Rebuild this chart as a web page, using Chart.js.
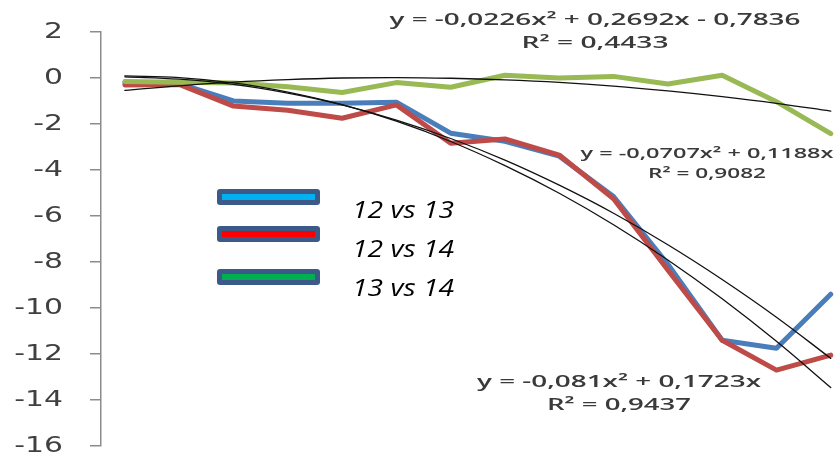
<!DOCTYPE html>
<html>
<head>
<meta charset="utf-8">
<script src="https://cdn.jsdelivr.net/npm/chart.js@4.4.0/dist/chart.umd.min.js"></script>
<style>
  html, body { margin: 0; padding: 0; background: #fff; }
  #wrap { width: 834px; height: 457px; position: relative; }
</style>
</head>
<body>
<div id="wrap"><canvas id="myChart"></canvas></div>
<script>
// x positions (1..14) and the values
const xValues = [1, 2, 3, 4, 5, 6, 7, 8, 9, 10, 11, 12, 13, 14];
const vs1213 = [-0.2, -0.25, -1.0, -1.1, -1.1, -1.05, -2.4, -2.75, -3.4, -5.15, -8.1, -11.4, -11.75, -9.4];
const vs1214 = [-0.3, -0.28, -1.22, -1.4, -1.75, -1.17, -2.84, -2.65, -3.35, -5.25, -8.35, -11.4, -12.7, -12.05];
const vs1314 = [-0.15, -0.18, -0.22, -0.38, -0.63, -0.2, -0.4, 0.12, 0.0, 0.07, -0.26, 0.12, -1.03, -2.42];
// trend lines as read (they agree with the printed equations)
const trend1213 = [0.05, -0.05, -0.28, -0.66, -1.17, -1.83, -2.63, -3.57, -4.66, -5.88, -7.25, -8.76, -10.4, -12.19];
const trend1214 = [0.09, 0.02, -0.21, -0.61, -1.16, -1.88, -2.76, -3.81, -5.01, -6.38, -7.91, -9.6, -11.45, -13.46];
const trend1314 = [-0.54, -0.34, -0.18, -0.07, 0.0, 0.02, -0.01, -0.08, -0.19, -0.35, -0.56, -0.81, -1.1, -1.44];
const yTicks = [2, 0, -2, -4, -6, -8, -10, -12, -14, -16];
const seriesNames = ["12 vs 13", "12 vs 14", "13 vs 14"];
const keyColors = ["#00B0F0", "#FF0000", "#00B050"];
const equations = [
  ["y = -0,0226x² + 0,2692x - 0,7836", "R² = 0,4433"],
  ["y = -0,0707x² + 0,1188x", "R² = 0,9082"],
  ["y = -0,081x² + 0,1723x", "R² = 0,9437"]
];

function points(arr) {
  return xValues.map((x, i) => ({ x: x, y: arr[i] }));
}

// draws text stretched to a given width
function wideText(ctx, text, x, y, width, align) {
  const w = ctx.measureText(text).width;
  ctx.save();
  ctx.translate(x, y);
  ctx.scale(width / w, 1);
  ctx.textAlign = align;
  ctx.fillText(text, 0, 0);
  ctx.restore();
}

const extras = {
  id: "extras",
  afterDraw(chart) {
    const ctx = chart.ctx;
    const yScale = chart.scales.y;
    ctx.save();
    ctx.textBaseline = "middle";
    ctx.fillStyle = "#404040";
    ctx.font = "21px 'DejaVu Sans'";
    yScale.ticks.forEach((t) => {
      const label = String(t.value);
      const w = ctx.measureText(label).width * 1.42;
      wideText(ctx, label, 63, yScale.getPixelForValue(t.value) + 1, w, "right");
    });

    // equations
    ctx.textBaseline = "alphabetic";
    ctx.fillStyle = "#3a3a3a";
    ctx.font = "600 17px 'Open Sans'";
    wideText(ctx, equations[0][0], 595, 25, 411, "center");
    wideText(ctx, equations[0][1], 595, 48, 147, "center");
    ctx.font = "600 15px 'Open Sans'";
    wideText(ctx, equations[1][0], 707, 158, 253, "center");
    wideText(ctx, equations[1][1], 707, 178, 118, "center");
    ctx.font = "600 17px 'Open Sans'";
    wideText(ctx, equations[2][0], 619, 387, 284, "center");
    wideText(ctx, equations[2][1], 619, 410, 144, "center");

    // legend boxes
    const keyTops = [189, 226, 269];
    const textBase = [218, 257, 296];
    ctx.font = "italic 23px 'Open Sans'";
    ctx.fillStyle = "#000";
    keyTops.forEach((top, i) => {
      ctx.beginPath();
      ctx.roundRect(217, top, 103, 16, 3);
      ctx.fillStyle = "#3C5A88";
      ctx.fill();
      ctx.fillStyle = keyColors[i];
      ctx.fillRect(222, top + 5, 93, 6);
      ctx.fillStyle = "#000";
      wideText(ctx, seriesNames[i], 352, textBase[i], 102, "left");
    });
    ctx.restore();
  }
};

function drawGraph() {
  const ctx = document.getElementById("myChart").getContext("2d");
  const line = (data, color, width, order) => ({
    data: points(data),
    borderColor: color,
    borderWidth: width,
    pointRadius: 0,
    fill: false,
    order: order,
    borderJoinStyle: "round",
    borderCapStyle: "round"
  });
  const trend = (data) => Object.assign(line(data, "#111", 1.3, 0), { tension: 0.4 });

  new Chart(ctx, {
    type: "line",
    data: {
      datasets: [
        Object.assign(line(vs1213, "#4A7EBB", 5, 5), { label: seriesNames[0] }),
        Object.assign(line(vs1214, "#BE4B48", 5, 4), { label: seriesNames[1] }),
        Object.assign(line(vs1314, "#98B954", 5, 3), { label: seriesNames[2] }),
        trend(trend1213),
        trend(trend1214),
        trend(trend1314)
      ]
    },
    options: {
      responsive: true,
      maintainAspectRatio: false,
      animation: false,
      events: [],
      layout: { padding: { top: 32, bottom: 11, left: 0, right: 0 } },
      plugins: { legend: { display: false }, tooltip: { enabled: false } },
      scales: {
        x: { type: "linear", min: 0.56, max: 14.06, display: false },
        y: {
          min: -16,
          max: 2,
          afterBuildTicks: (axis) => { axis.ticks = yTicks.map((v) => ({ value: v })); },
          afterFit: (axis) => { axis.width = 101; },
          ticks: { display: false },
          grid: { drawOnChartArea: false, drawTicks: true, tickLength: 11, color: "#8c8c8c", lineWidth: 1.5 },
          border: { display: true, color: "#8c8c8c", width: 1.5 }
        }
      }
    },
    plugins: [extras]
  });
}

drawGraph();
</script>
</body>
</html>
